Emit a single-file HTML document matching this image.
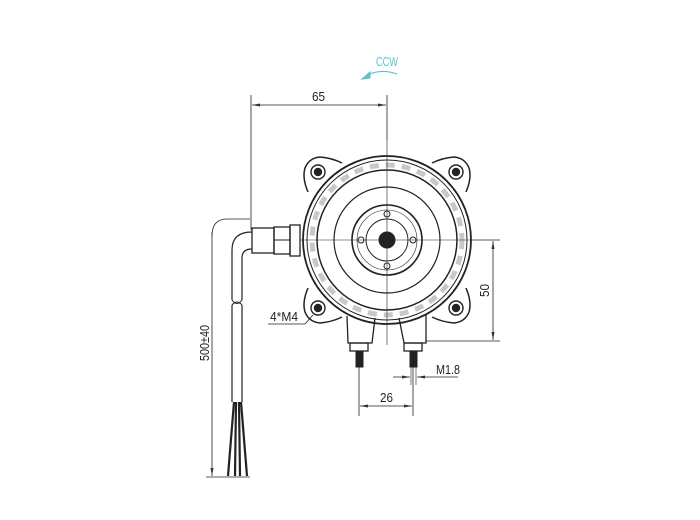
<!DOCTYPE html>
<html><head><meta charset="utf-8"><style>
html,body{margin:0;padding:0;background:#fff}
svg{display:block}
text{font-family:"Liberation Sans",sans-serif;fill:#222}
</style></head><body>
<svg width="700" height="520" viewBox="0 0 700 520" xmlns="http://www.w3.org/2000/svg">
<defs>
<marker id="a" markerWidth="8" markerHeight="6" refX="8" refY="3" orient="auto-start-reverse" markerUnits="userSpaceOnUse"><path d="M0,1.5 L8,3 L0,4.5Z" fill="#333"/></marker>
</defs>
<g stroke="#222" fill="none" stroke-width="1">
<path d="M397,74 Q380,68 366,76" stroke="#5cc3cc" stroke-width="1.2"/>
<path d="M362,79 L370,72 L370,78Z" fill="#5cc3cc" stroke="#5cc3cc"/>
<line x1="251" y1="95" x2="251" y2="230" stroke-width="0.8"/>
<line x1="387" y1="95" x2="387" y2="140" stroke-width="0.8"/>
<line x1="252" y1="105" x2="386" y2="105" stroke-width="0.8" marker-start="url(#a)" marker-end="url(#a)"/>
<line x1="387" y1="140" x2="387" y2="345" stroke-width="0.6"/>
<line x1="300" y1="240" x2="500" y2="240" stroke-width="0.6"/>
<g stroke-width="1.5">
<path d="M308,192 Q302,178 305,168 Q309,158 320,157 Q332,158 342,163"/>
<path d="M466,192 Q472,178 469,168 Q465,158 454,157 Q442,158 432,163"/>
<path d="M308,288 Q302,302 305,312 Q309,322 320,323 Q332,322 342,317"/>
<path d="M466,288 Q472,302 469,312 Q465,322 454,323 Q442,322 432,317"/>
</g>
<g stroke-width="1.4">
<circle cx="318" cy="172" r="7"/><circle cx="318" cy="172" r="3.5" fill="#222"/>
<circle cx="456" cy="172" r="7"/><circle cx="456" cy="172" r="3.5" fill="#222"/>
<circle cx="318" cy="308" r="7"/><circle cx="318" cy="308" r="3.5" fill="#222"/>
<circle cx="456" cy="308" r="7"/><circle cx="456" cy="308" r="3.5" fill="#222"/>
</g>
<circle cx="387" cy="240" r="84" stroke-width="1.8"/>
<circle cx="387" cy="240" r="80" stroke-width="1"/>
<circle cx="387" cy="240" r="70" stroke-width="1.5"/>
<circle cx="387" cy="240" r="75" stroke-width="5" stroke-dasharray="9,7" stroke-opacity="0.25"/>
<circle cx="387" cy="240" r="53" stroke-width="1.2"/>
<circle cx="387" cy="240" r="35" stroke-width="1.6"/>
<circle cx="387" cy="240" r="30" stroke-width="0.6"/>
<circle cx="387" cy="240" r="21" stroke-width="1"/>
<circle cx="387" cy="240" r="8" fill="#222"/>
<circle cx="387" cy="214" r="3"/><circle cx="387" cy="266" r="3"/>
<circle cx="361" cy="240" r="3"/><circle cx="413" cy="240" r="3"/>
<rect x="252" y="228" width="22" height="25" stroke-width="1.3"/>
<rect x="274" y="227" width="16" height="27" stroke-width="1.3"/>
<rect x="290" y="225" width="10" height="31" stroke-width="1.3"/>
<line x1="274" y1="240" x2="290" y2="240"/>
<path d="M252,232 Q232,232 232,250 L232,300 M252,249 Q242,249 242,258 L242,300" stroke-width="1.2"/>
<path d="M232,300 Q237,307 242,300 M232,305 Q237,299 242,305" stroke-width="1"/>
<path d="M232,305 L232,402 M242,305 L242,402" stroke-width="1.2"/>
<g stroke-width="2.2">
<line x1="234" y1="402" x2="228" y2="476"/><line x1="236" y1="402" x2="235" y2="476"/>
<line x1="239" y1="402" x2="240" y2="476"/><line x1="241" y1="402" x2="247" y2="476"/>
</g>
<path d="M250,219 L227,219 Q212,219 212,236" stroke-width="0.8"/>
<line x1="212" y1="232" x2="212" y2="476" stroke-width="0.8" marker-end="url(#a)"/>
<line x1="206" y1="477" x2="250" y2="477" stroke-width="0.8"/>
<line x1="268" y1="324" x2="305" y2="324" stroke-width="0.8"/>
<line x1="305" y1="324" x2="313" y2="315" stroke-width="0.8"/>
<g stroke-width="1.3">
<path d="M347,316 L348,343 L372,343 L375,318"/>
<path d="M399,318 L404,343 L426,343 L426,314"/>
<rect x="350" y="343" width="18" height="8"/>
<rect x="404" y="343" width="18" height="8"/>
</g>
<rect x="356" y="351" width="7" height="16" fill="#222"/>
<rect x="410" y="351" width="7" height="16" fill="#222"/>
<line x1="470" y1="240" x2="500" y2="240" stroke-width="0.6"/>
<line x1="426" y1="341" x2="500" y2="341" stroke-width="0.8"/>
<line x1="493" y1="241" x2="493" y2="340" stroke-width="0.8" marker-start="url(#a)" marker-end="url(#a)"/>
<line x1="359" y1="367" x2="359" y2="416" stroke-width="0.8"/>
<line x1="413" y1="367" x2="413" y2="416" stroke-width="0.8"/>
<line x1="360" y1="406" x2="412" y2="406" stroke-width="0.8" marker-start="url(#a)" marker-end="url(#a)"/>
<line x1="411" y1="367" x2="411" y2="385" stroke-width="0.6"/>
<line x1="416" y1="367" x2="416" y2="385" stroke-width="0.6"/>
<line x1="393" y1="377" x2="410" y2="377" stroke-width="0.8" marker-end="url(#a)"/>
<line x1="458" y1="377" x2="417" y2="377" stroke-width="0.8" marker-end="url(#a)"/>
</g>
<text x="376" y="66" font-size="13" textLength="22" lengthAdjust="spacingAndGlyphs" style="fill:#5cc3cc">CCW</text>
<text x="312" y="101" font-size="13" textLength="13" lengthAdjust="spacingAndGlyphs">65</text>
<text x="270" y="321" font-size="13" textLength="28" lengthAdjust="spacingAndGlyphs">4*M4</text>
<text x="436" y="374" font-size="13" textLength="24" lengthAdjust="spacingAndGlyphs">M1.8</text>
<text x="380" y="402" font-size="13" textLength="13" lengthAdjust="spacingAndGlyphs">26</text>
<text transform="translate(489,297) rotate(-90)" font-size="13" textLength="13" lengthAdjust="spacingAndGlyphs">50</text>
<text transform="translate(209,361) rotate(-90)" font-size="13" textLength="36" lengthAdjust="spacingAndGlyphs">500±40</text>
</svg>
</body></html>
